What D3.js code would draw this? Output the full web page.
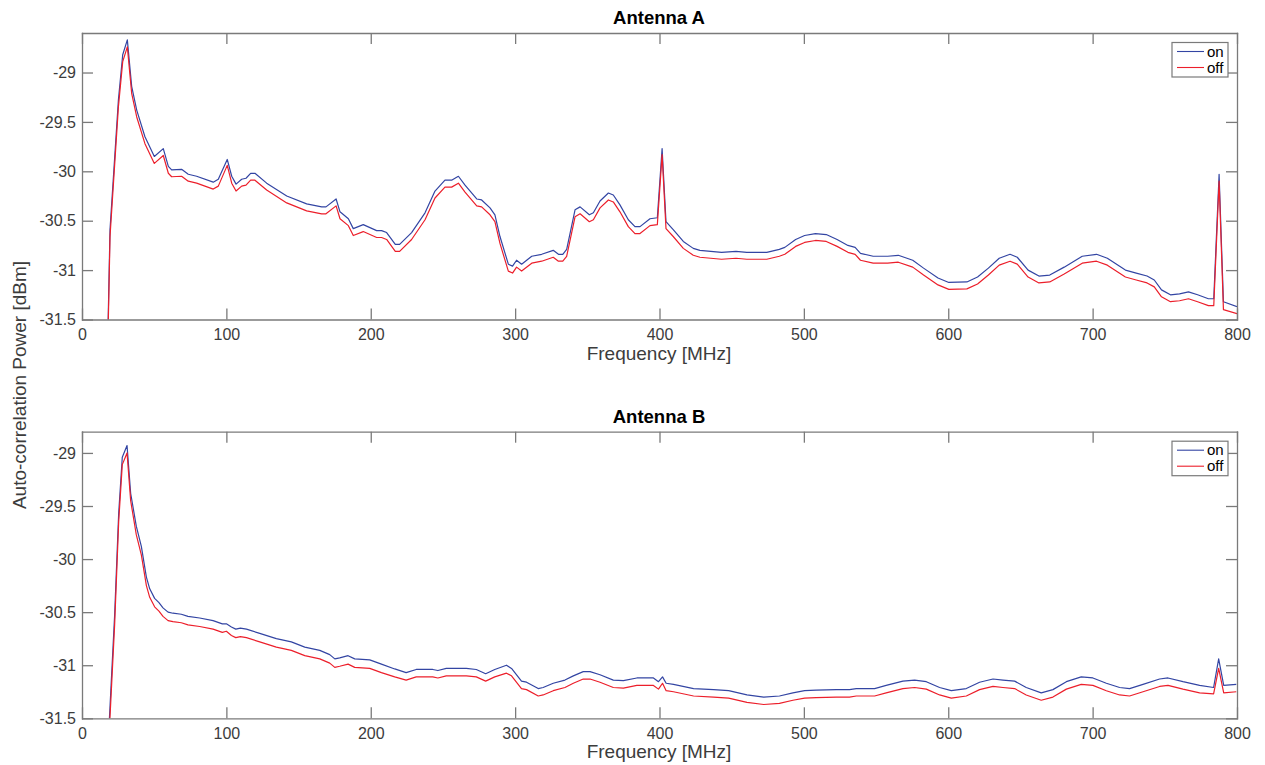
<!DOCTYPE html>
<html>
<head>
<meta charset="utf-8">
<script src="https://cdn.jsdelivr.net/npm/d3@7"></script>
<style>
  body { margin: 0; background: #fff; }
  svg { display: block; font-family: "Liberation Sans", Helvetica, Arial, sans-serif; }
</style>
</head>
<body>
<svg id="container" width="1265" height="765"></svg>
<script>
// Antenna A - frequency [MHz], power for "on" and "off" [dBm]
var freqA = [17.5, 19.4, 25.2, 28.2, 31.4, 34.4, 37.9, 43.6, 50.1, 56.3, 59.8, 62.1, 69, 73.6, 79.4, 90.9, 94.4, 100.6, 103.7, 106.7,
    110.6, 113.6, 116.8, 119.8, 127.9, 141.8, 155.6, 166, 169, 176, 178.7, 184.5, 187.9, 194.8, 204.1, 207.5, 211, 217, 220, 228.3,
    237.6, 244.5, 251.4, 256, 260.7, 265.3, 273.4, 276.8, 282.6, 286, 289.5, 295.3, 298.2, 301, 304.5, 311.5, 318.4, 326.4, 330, 333,
    335.7, 341.5, 345, 351.4, 354.2, 358.8, 364.6, 368, 372.6, 378.4, 383, 386.5, 393.4, 398.5, 401.8, 404.5, 409.5, 416.5, 423.4, 428,
    443, 453, 460.5, 474.3, 483, 486.8, 494.3, 500.5, 508, 515.5, 523, 530.5, 535.5, 539.2, 548, 558, 565.4, 575.4, 582.9, 592.9,
    600.4, 612.9, 620.3, 627.8, 635.3, 642.8, 647.8, 655.3, 662.8, 670.3, 680.3, 692.8, 702.7, 710.2, 722.7, 730.2, 737.7, 742.7, 747.7, 753.9,
    760.2, 766.4, 772.7, 780.2, 783.9, 787.6, 790.6, 800];
var onA = [-31.95, -30.59, -29.28, -28.82, -28.67, -29.14, -29.38, -29.65, -29.85, -29.77, -29.95, -29.985, -29.98, -30.03, -30.05, -30.11, -30.08, -29.88, -30.05, -30.13,
    -30.08, -30.07, -30.02, -30.02, -30.12, -30.25, -30.33, -30.36, -30.36, -30.28, -30.41, -30.48, -30.58, -30.54, -30.60, -30.60, -30.62, -30.74, -30.74, -30.62,
    -30.42, -30.20, -30.09, -30.09, -30.05, -30.14, -30.28, -30.29, -30.37, -30.44, -30.66, -30.94, -30.96, -30.90, -30.94, -30.86, -30.84, -30.80, -30.84, -30.84,
    -30.79, -30.39, -30.36, -30.44, -30.42, -30.30, -30.22, -30.24, -30.34, -30.49, -30.56, -30.56, -30.48, -30.47, -29.77, -30.51, -30.59, -30.71, -30.78, -30.80,
    -30.82, -30.81, -30.82, -30.82, -30.79, -30.77, -30.69, -30.65, -30.63, -30.64, -30.69, -30.75, -30.77, -30.83, -30.86, -30.86, -30.85, -30.90, -30.98, -31.08,
    -31.125, -31.12, -31.07, -30.98, -30.88, -30.84, -30.87, -31.00, -31.06, -31.05, -30.97, -30.86, -30.84, -30.88, -31.00, -31.03, -31.06, -31.10, -31.20, -31.25,
    -31.24, -31.22, -31.25, -31.29, -31.29, -30.03, -31.32, -31.37];
var offA = [-32.05, -30.66, -29.35, -28.89, -28.74, -29.21, -29.45, -29.72, -29.92, -29.84, -30.02, -30.055, -30.05, -30.10, -30.12, -30.18, -30.15, -29.94, -30.12, -30.20,
    -30.15, -30.14, -30.09, -30.09, -30.19, -30.32, -30.40, -30.43, -30.43, -30.35, -30.48, -30.55, -30.65, -30.61, -30.67, -30.67, -30.69, -30.81, -30.81, -30.69,
    -30.49, -30.27, -30.16, -30.16, -30.12, -30.21, -30.35, -30.36, -30.44, -30.51, -30.73, -31.01, -31.03, -30.97, -31.01, -30.93, -30.91, -30.87, -30.91, -30.91,
    -30.86, -30.46, -30.43, -30.51, -30.49, -30.37, -30.29, -30.31, -30.41, -30.56, -30.63, -30.63, -30.55, -30.54, -29.83, -30.58, -30.66, -30.78, -30.85, -30.87,
    -30.89, -30.88, -30.89, -30.89, -30.86, -30.84, -30.76, -30.72, -30.70, -30.71, -30.76, -30.82, -30.84, -30.90, -30.93, -30.93, -30.92, -30.97, -31.05, -31.15,
    -31.195, -31.19, -31.14, -31.05, -30.95, -30.91, -30.94, -31.07, -31.13, -31.12, -31.04, -30.93, -30.91, -30.95, -31.07, -31.10, -31.13, -31.17, -31.27, -31.32,
    -31.31, -31.29, -31.32, -31.36, -31.36, -30.10, -31.40, -31.44];

// Antenna B
var freqB = [17.5, 22.6, 25.4, 27.9, 31.2, 33.7, 37.6, 41.1, 44.6, 46.9, 50.3, 53.3, 56.1, 59.6, 63, 68.8, 73.4, 81.5, 90.8, 97.2,
    100, 103.5, 106.5, 109.7, 113.9, 123.1, 134.6, 145, 154.3, 164.7, 171.6, 175.1, 178.5, 184.3, 188.9, 199.3, 207.4, 216.6, 224.5, 231.5,
    243, 246.5, 252.3, 266.2, 273.1, 279.6, 285.9, 294, 297.5, 304.4, 307.9, 316, 319.4, 326.4, 334.5, 340.3, 347.2, 351.9, 358.8, 368,
    375, 384.3, 395.8, 399.3, 402.1, 404.6, 409.7, 423.6, 437.5, 447.9, 460.6, 472.2, 483.1, 492.4, 500.5, 508.5, 522.4, 531.6, 536.3, 538.6,
    549, 557, 568.6, 576.7, 584.8, 594, 602.1, 612.5, 621.7, 631, 637.9, 646, 654, 664.4, 672.5, 681.8, 692.1, 700.2, 709.5, 718.7,
    725.6, 734.9, 746.4, 752.2, 762.6, 774.1, 783.8, 787.3, 790.8, 799.5];
var onB = [-31.9, -30.53, -29.57, -29.04, -28.93, -29.38, -29.69, -29.88, -30.17, -30.28, -30.37, -30.41, -30.46, -30.50, -30.51, -30.52, -30.54, -30.555, -30.58, -30.61,
    -30.61, -30.64, -30.66, -30.65, -30.66, -30.70, -30.75, -30.78, -30.83, -30.86, -30.90, -30.94, -30.93, -30.91, -30.94, -30.95, -30.99, -31.035, -31.07, -31.04,
    -31.04, -31.05, -31.03, -31.03, -31.04, -31.08, -31.04, -31.00, -31.03, -31.15, -31.16, -31.22, -31.21, -31.17, -31.14, -31.10, -31.06, -31.06, -31.09, -31.14,
    -31.145, -31.12, -31.12, -31.155, -31.11, -31.17, -31.18, -31.22, -31.23, -31.24, -31.28, -31.30, -31.29, -31.26, -31.24, -31.235, -31.23, -31.23, -31.22, -31.22,
    -31.22, -31.19, -31.15, -31.14, -31.155, -31.21, -31.24, -31.22, -31.16, -31.13, -31.14, -31.15, -31.21, -31.26, -31.23, -31.155, -31.11, -31.12, -31.17, -31.21,
    -31.22, -31.18, -31.13, -31.12, -31.155, -31.19, -31.21, -30.94, -31.19, -31.18];
var offB = [-32.0, -30.62, -29.65, -29.11, -29.00, -29.45, -29.77, -29.96, -30.25, -30.36, -30.45, -30.49, -30.54, -30.58, -30.59, -30.60, -30.62, -30.635, -30.66, -30.69,
    -30.68, -30.72, -30.74, -30.73, -30.74, -30.78, -30.83, -30.86, -30.91, -30.94, -30.98, -31.02, -31.01, -30.99, -31.02, -31.03, -31.07, -31.11, -31.14, -31.11,
    -31.11, -31.12, -31.10, -31.10, -31.11, -31.15, -31.11, -31.075, -31.10, -31.22, -31.23, -31.29, -31.28, -31.24, -31.21, -31.17, -31.13, -31.13, -31.16, -31.21,
    -31.215, -31.19, -31.19, -31.225, -31.17, -31.24, -31.25, -31.29, -31.30, -31.31, -31.35, -31.37, -31.36, -31.33, -31.31, -31.305, -31.30, -31.30, -31.29, -31.29,
    -31.29, -31.26, -31.22, -31.21, -31.225, -31.28, -31.31, -31.29, -31.23, -31.20, -31.21, -31.22, -31.28, -31.33, -31.30, -31.225, -31.18, -31.19, -31.24, -31.28,
    -31.29, -31.25, -31.20, -31.19, -31.225, -31.26, -31.27, -31.03, -31.26, -31.25];

var xTicks = [0, 100, 200, 300, 400, 500, 600, 700, 800];
var yTicks = [-31.5, -31, -30.5, -30, -29.5, -29];
var seriesNames = ["on", "off"];
var seriesColors = ["#3345a3", "#ec1f2b"];

const svg = d3.select("#container");
const axisColor = "#7a7a7a";
const textColor = "#3c3c3c";
const left = 82, right = 1237;

var x = d3.scaleLinear().domain([0, 800]).range([left, right]);

function drawPanel(id, title, freq, on, off, top, bottom, yMax)
{
    var y = d3.scaleLinear().domain([-31.5, yMax]).range([bottom, top]);
    var g = svg.append("g");

    g.append("clipPath").attr("id", "clip" + id)
        .append("rect").attr("x", left).attr("y", top).attr("width", right - left).attr("height", bottom - top);

    var line = d3.line().x(d => x(d[0])).y(d => y(d[1]));
    var curves = [on, off];
    curves.forEach((vals, k) => {
        g.append("path")
            .datum(freq.map((f, i) => [f, vals[i]]))
            .attr("clip-path", "url(#clip" + id + ")")
            .attr("fill", "none")
            .attr("stroke", seriesColors[k])
            .attr("stroke-width", 1.2)
            .attr("stroke-linejoin", "round")
            .attr("d", line);
    });

    // axes, MATLAB style: ticks inside, box all round
    function styleAxis(sel)
    {
        sel.selectAll("path, line").attr("stroke", axisColor).attr("stroke-width", 1.3);
        sel.selectAll("text").attr("fill", textColor).attr("font-size", 16);
    }
    g.append("g").attr("transform", "translate(0," + bottom + ")")
        .call(d3.axisBottom(x).tickValues(xTicks).tickSizeInner(-11).tickSizeOuter(0).tickPadding(9))
        .call(styleAxis);
    g.append("g").attr("transform", "translate(0," + top + ")")
        .call(d3.axisTop(x).tickValues(xTicks).tickSizeInner(-11).tickSizeOuter(0).tickFormat(""))
        .call(styleAxis);
    g.append("g").attr("transform", "translate(" + left + ",0)")
        .call(d3.axisLeft(y).tickValues(yTicks).tickSizeInner(-11).tickSizeOuter(0).tickPadding(6).tickFormat(d => String(d)))
        .call(styleAxis);
    g.append("g").attr("transform", "translate(" + right + ",0)")
        .call(d3.axisRight(y).tickValues(yTicks).tickSizeInner(-11).tickSizeOuter(0).tickFormat(""))
        .call(styleAxis);
    g.selectAll(".domain").attr("stroke-linecap", "square");

    g.append("text").attr("x", 659).attr("y", top - 9)
        .attr("text-anchor", "middle").attr("font-weight", "bold").attr("font-size", 18.5).attr("fill", "#000")
        .text(title);

    g.append("text").attr("x", 659).attr("y", bottom + 40)
        .attr("text-anchor", "middle").attr("font-size", 19).attr("fill", textColor)
        .text("Frequency [MHz]");

    // legend
    var lg = g.append("g").attr("transform", "translate(1172," + (top + 9.5) + ")");
    lg.append("rect").attr("width", 56).attr("height", 34.5)
        .attr("fill", "#fff").attr("stroke", axisColor).attr("stroke-width", 1.2);
    seriesNames.forEach((name, k) => {
        var yy = 9 + k * 16;
        lg.append("line").attr("x1", 5).attr("x2", 32).attr("y1", yy).attr("y2", yy)
            .attr("stroke", seriesColors[k]).attr("stroke-width", 1.1);
        lg.append("text").attr("x", 35).attr("y", yy + 5).attr("font-size", 15).attr("fill", "#000")
            .text(name);
    });
}

drawPanel("A", "Antenna A", freqA, onA, offA, 33, 319.5, -28.6);
drawPanel("B", "Antenna B", freqB, onB, offB, 431.7, 718.3, -28.8);

svg.append("text")
    .attr("transform", "translate(26,385) rotate(-90)")
    .attr("text-anchor", "middle").attr("font-size", 19).attr("fill", textColor)
    .text("Auto-correlation Power [dBm]");
</script>
</body>
</html>
